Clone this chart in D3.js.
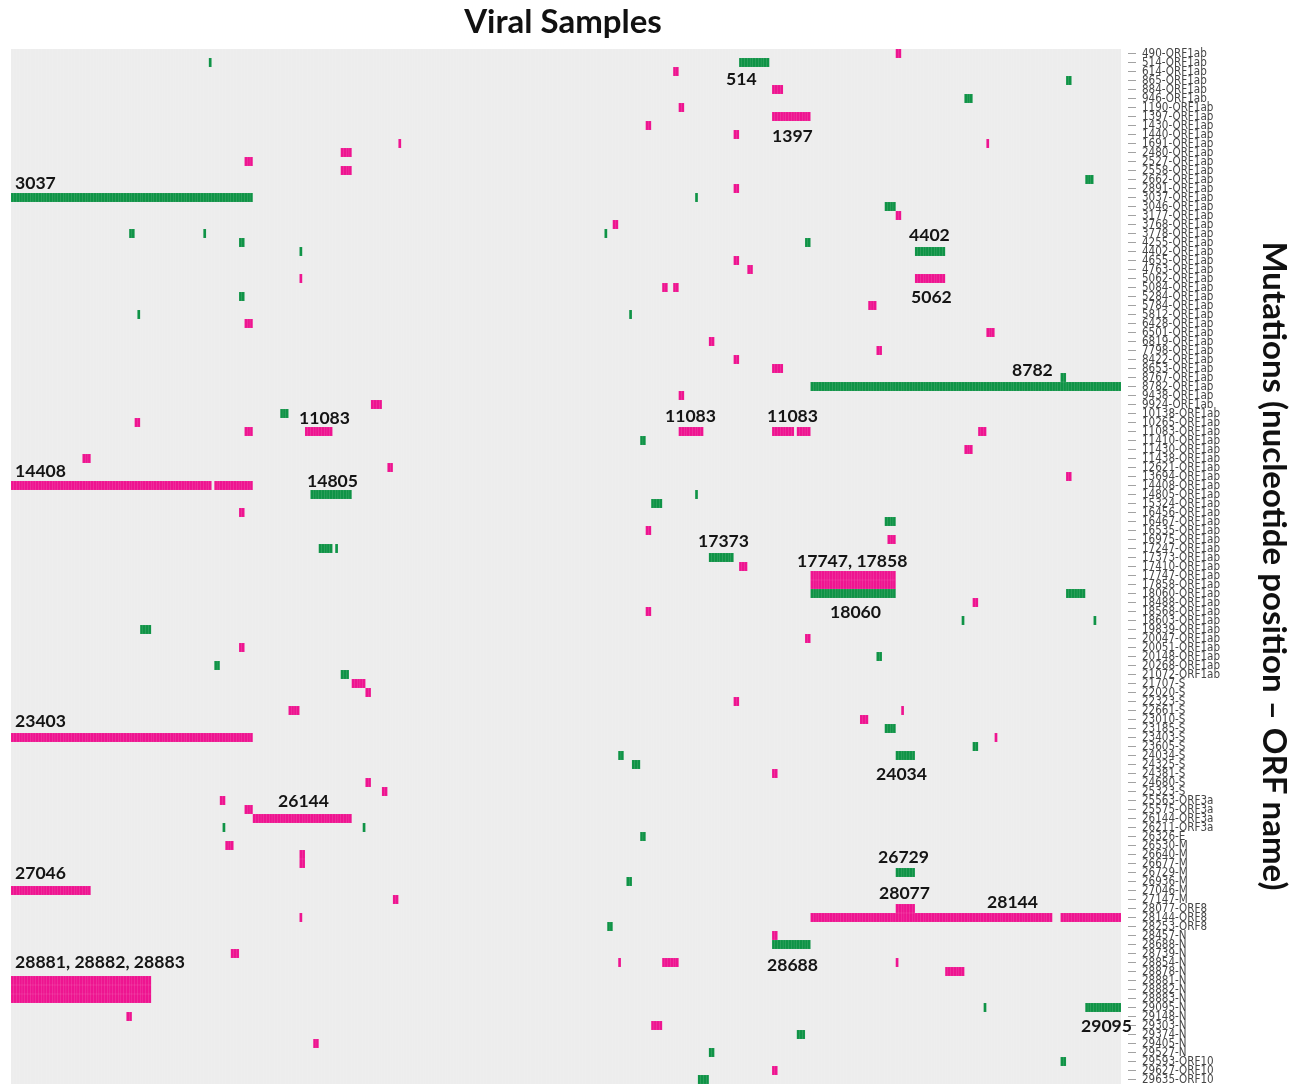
<!DOCTYPE html>
<html><head><meta charset="utf-8">
<script src="https://cdn.jsdelivr.net/npm/d3@7/dist/d3.min.js"></script>
<style>
html,body{margin:0;padding:0;background:#fff}
svg{display:block;filter:blur(0.35px)}
</style></head><body><div id="chart"></div>
<script>
const mutations = ["490-ORF1ab","514-ORF1ab","614-ORF1ab","865-ORF1ab","884-ORF1ab","946-ORF1ab","1190-ORF1ab","1397-ORF1ab","1430-ORF1ab","1440-ORF1ab","1691-ORF1ab","2480-ORF1ab","2527-ORF1ab","2558-ORF1ab","2662-ORF1ab","2891-ORF1ab","3037-ORF1ab","3046-ORF1ab","3177-ORF1ab","3768-ORF1ab","3778-ORF1ab","4255-ORF1ab","4402-ORF1ab","4655-ORF1ab","4763-ORF1ab","5062-ORF1ab","5084-ORF1ab","5284-ORF1ab","5784-ORF1ab","5812-ORF1ab","6428-ORF1ab","6501-ORF1ab","6819-ORF1ab","7798-ORF1ab","8422-ORF1ab","8653-ORF1ab","8767-ORF1ab","8782-ORF1ab","9438-ORF1ab","9924-ORF1ab","10138-ORF1ab","10265-ORF1ab","11083-ORF1ab","11410-ORF1ab","11430-ORF1ab","11438-ORF1ab","12621-ORF1ab","13694-ORF1ab","14408-ORF1ab","14805-ORF1ab","15324-ORF1ab","16456-ORF1ab","16467-ORF1ab","16535-ORF1ab","16975-ORF1ab","17247-ORF1ab","17373-ORF1ab","17410-ORF1ab","17747-ORF1ab","17858-ORF1ab","18060-ORF1ab","18488-ORF1ab","18568-ORF1ab","18603-ORF1ab","19839-ORF1ab","20047-ORF1ab","20051-ORF1ab","20148-ORF1ab","20268-ORF1ab","21072-ORF1ab","21707-S","22020-S","22323-S","22661-S","23010-S","23185-S","23403-S","23605-S","24034-S","24325-S","24381-S","24680-S","25323-S","25563-ORF3a","25575-ORF3a","26144-ORF3a","26211-ORF3a","26326-E","26530-M","26640-M","26677-M","26729-M","26936-M","27046-M","27147-M","28077-ORF8","28144-ORF8","28253-ORF8","28457-N","28688-N","28739-N","28854-N","28878-N","28881-N","28882-N","28883-N","29095-N","29148-N","29303-N","29374-N","29405-N","29527-N","29593-ORF10","29627-ORF10","29635-ORF10"];

const sampleCount = 404;

// [nucleotide position, first sample, number of consecutive samples]
const greenRuns = [[514,72,1],[514,265,11],[3037,0,88],[3037,249,1],[3046,318,4],[865,384,2],[946,347,3],[2662,391,3],[3778,43,2],[3778,70,1],[3778,216,1],[4255,83,2],[4255,289,2],[4402,105,1],[4402,329,11],[5284,83,2],[5812,46,1],[5812,225,1],[8767,382,2],[8782,291,113],[10138,98,3],[11410,229,2],[14805,109,15],[14805,249,1],[15324,233,4],[16467,318,4],[17247,112,5],[17247,118,1],[17373,254,9],[18060,291,31],[18060,384,7],[18603,346,1],[18603,394,1],[19839,47,4],[20148,315,2],[20268,74,2],[21072,120,3],[23185,318,4],[23605,350,2],[24034,221,2],[24034,322,7],[24325,226,3],[26211,77,1],[26211,128,1],[26326,229,2],[26729,322,7],[26936,224,2],[28253,217,2],[28688,277,14],[29095,354,1],[29095,391,13],[29374,286,3],[29527,254,2],[29593,382,2],[29635,250,4]];

const pinkRuns = [[490,322,2],[614,241,2],[884,277,4],[1190,243,2],[1397,277,14],[1430,231,2],[1440,263,2],[1691,141,1],[1691,355,1],[2480,120,4],[2527,85,3],[2558,120,4],[2891,263,2],[3177,322,2],[3768,219,2],[4655,263,2],[4763,268,2],[5062,105,1],[5062,329,11],[5084,237,2],[5084,241,2],[5784,312,3],[6428,85,3],[6501,355,3],[6819,254,2],[7798,315,2],[8422,263,2],[8653,277,4],[9438,243,2],[9924,131,4],[10265,45,2],[11083,85,3],[11083,107,10],[11083,243,9],[11083,277,8],[11083,286,5],[11083,352,3],[11430,347,3],[11438,26,3],[12621,137,2],[13694,384,2],[14408,0,73],[14408,74,14],[16456,83,2],[16535,231,2],[16975,319,3],[17410,265,3],[17747,291,31],[17858,291,31],[18488,350,2],[18568,231,2],[20047,289,2],[20051,83,2],[21707,124,5],[22020,129,2],[22323,263,2],[22661,101,4],[22661,324,1],[23010,309,3],[23403,0,88],[23403,358,1],[24381,277,2],[24680,129,2],[25323,135,2],[25563,76,2],[25575,85,3],[26144,88,36],[26530,78,3],[26640,105,2],[26677,105,2],[27046,0,29],[27147,139,2],[28077,322,7],[28144,105,1],[28144,291,88],[28144,382,22],[28457,277,2],[28739,80,3],[28854,221,1],[28854,237,6],[28854,322,1],[28878,340,7],[28881,0,51],[28882,0,51],[28883,0,51],[29148,42,2],[29303,233,4],[29405,110,2],[29627,277,2]];

const noteTexts = ["3037","514","1397","4402","5062","8782","11083","11083","11083","14408","14805","17373","17747, 17858","18060","23403","24034","26144","26729","27046","28077","28144","28688","28881, 28882, 28883","29095"];

const titleText = "Viral Samples";
const sideTitleText = "Mutations (nucleotide position \u2013 ORF name)";

// Layout, separate from the data
const notePlaces = [[15,189],[726,85],[772,142],[909,241],[911,303],[1012,376],[299,424],[665,422],[767,422],[15,477],[307,487],[698,547],[797,567],[830,618],[15,727],[876,780],[278,807],[878,863],[15,879],[879,899],[987,908],[767,971],[15,968],[1081,1032]];
const W = 1300, H = 1085, panel = {x0:11, x1:1121, y0:49, y1:1084};
const GREEN = "#0f9346", PINK = "#ee1490", PANEL = "#ededed";

const x = d3.scaleBand().domain(d3.range(sampleCount)).range([panel.x0, panel.x1]).paddingInner(0).paddingOuter(0);
const y = d3.scaleBand().domain(mutations).range([panel.y0, panel.y1]).paddingInner(0).paddingOuter(0);
const byPos = new Map(mutations.map(m => [+m.split("-")[0], m]));

const svg = d3.select("#chart").append("svg").attr("width", W).attr("height", H).attr("viewBox", `0 0 ${W} ${H}`);

svg.append("rect").attr("x", panel.x0).attr("y", panel.y0)
  .attr("width", panel.x1 - panel.x0).attr("height", panel.y1 - panel.y0).attr("fill", PANEL);

// faint cell grid
const gridPath = d3.path();
x.domain().forEach(i => { gridPath.moveTo(x(i), panel.y0); gridPath.lineTo(x(i), panel.y1); });
mutations.forEach(m => { gridPath.moveTo(panel.x0, y(m)); gridPath.lineTo(panel.x1, y(m)); });
svg.append("path").attr("d", gridPath.toString()).attr("fill", "none")
  .attr("stroke", "#ffffff").attr("stroke-opacity", 0.28).attr("stroke-width", 0.35);

// solid body of each run, so neighbouring cells read as one block
const runsTagged = greenRuns.map(r => [r, GREEN]).concat(pinkRuns.map(r => [r, PINK]));
svg.append("g").selectAll("rect")
  .data(runsTagged)
  .join("rect")
  .attr("x", d => x(d[0][1]))
  .attr("y", d => y(byPos.get(d[0][0])))
  .attr("width", d => x.bandwidth() * d[0][2])
  .attr("height", y.bandwidth())
  .attr("fill", d => d[1]);

// one outline per sample cell, for the faint separators inside a block
function cellsOf(runs) {
  const cells = [];
  runs.forEach(([pos, start, n]) => d3.range(n).forEach(k => cells.push({m: byPos.get(pos), s: start + k})));
  return cells;
}
svg.append("g").selectAll("rect")
  .data(cellsOf(greenRuns).concat(cellsOf(pinkRuns)))
  .join("rect")
  .attr("x", d => x(d.s)).attr("y", d => y(d.m))
  .attr("width", x.bandwidth()).attr("height", y.bandwidth())
  .attr("fill", "none")
  .attr("stroke", "#ffffff").attr("stroke-opacity", 0.2).attr("stroke-width", 0.3);

// right axis with mutation names
const axis = d3.axisRight(y).tickSize(8).tickPadding(6);
const gAxis = svg.append("g").attr("transform", `translate(1128,0)`).call(axis);
gAxis.select(".domain").remove();
gAxis.selectAll(".tick line").attr("stroke", "#8a8a8a").attr("stroke-width", 0.8);
gAxis.selectAll(".tick text").attr("fill", "#454545").attr("transform", "scale(1,1.12)")
  .style("font-family", "'DejaVu Sans', sans-serif").style("font-size", "10.4px");

const textFont = "Lato, 'Open Sans', sans-serif";
svg.append("g").selectAll("text").data(noteTexts).join("text")
  .attr("x", (d, i) => notePlaces[i][0]).attr("y", (d, i) => notePlaces[i][1])
  .attr("fill", "#141414")
  .style("font-family", textFont).style("font-weight", 700).style("font-size", "17.6px")
  .text(d => d);

svg.append("text").attr("x", 563).attr("y", 33).attr("text-anchor", "middle").attr("fill", "#111")
  .style("font-family", textFont).style("font-weight", 700).style("font-size", "33px").text(titleText);

svg.append("text").attr("transform", "translate(1263,566) rotate(90)").attr("text-anchor", "middle").attr("fill", "#111")
  .style("font-family", textFont).style("font-weight", 700).style("font-size", "33px").text(sideTitleText);
</script></body></html>
